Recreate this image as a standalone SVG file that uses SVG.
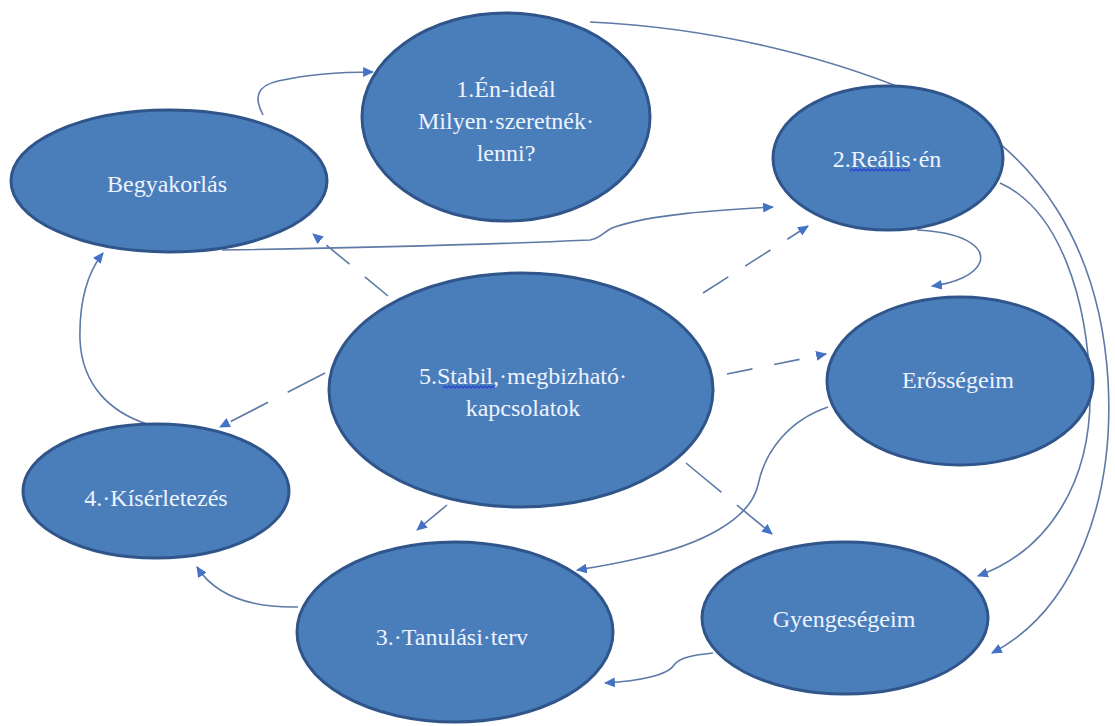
<svg xmlns="http://www.w3.org/2000/svg" width="1115" height="726" viewBox="0 0 1115 726">
  <style>
    .node { fill: #4a7ebb; stroke: #30558a; stroke-width: 3; }
    .label { font-family: "Liberation Serif", "Times New Roman", serif; font-size: 24px; fill: #eef3ff; text-anchor: middle; }
    .link { fill: none; stroke: #5e7aa6; stroke-width: 1.6; marker-end: url(#arrow); }
    .dash { stroke-dasharray: 30 20; }
    .squiggle { fill: none; stroke: #2a3fd6; stroke-width: 1.2; }
  </style>
  <defs>
    <marker id="arrow" viewBox="0 0 10 9" refX="9" refY="4.5" markerWidth="11" markerHeight="10" markerUnits="userSpaceOnUse" orient="auto">
      <path d="M0,0 L10,4.5 L0,9 z" fill="#4472c4"/>
    </marker>
  </defs>
  <rect width="1115" height="726" fill="#ffffff"/>

  <!-- connectors -->
  <g id="connectors">
    <path class="link" d="M263,115 C254,98 256,86 278,81 C305,75 340,72 373,72"/>
    <path class="link" d="M222,250 C350,248 500,244 590,240 C600,239 602,233 612,228 C650,214 720,210 773,207"/>
    <path class="link" d="M590,22 C720,28 840,60 930,100 C1040,150 1100,250 1108,380 C1115,500 1075,610 992,653"/>
    <path class="link" d="M1000,183 C1060,210 1088,300 1090,390 C1092,480 1050,550 978,576"/>
    <path class="link" d="M917,230 C960,232 985,245 980,262 C975,275 955,283 932,286"/>
    <path class="link dash" d="M388,296 L313,234"/>
    <path class="link dash" d="M703,293 L808,226"/>
    <path class="link dash" d="M727,374 L826,354" style="stroke-dasharray: 26 22"/>
    <path class="link dash" d="M325,373 L220,427" style="stroke-dasharray: 42 22"/>
    <path class="link dash" d="M447,505 L417,530"/>
    <path class="link dash" d="M686,463 L772,534" style="stroke-dasharray: 46 20"/>
    <path class="link" d="M828,407 C790,420 765,450 758,485 C750,520 700,545 640,558 C610,565 590,568 577,570"/>
    <path class="link" d="M713,653 C695,655 680,657 674,665 C668,675 640,681 605,683"/>
    <path class="link" d="M298,607 C250,608 215,595 197,567"/>
    <path class="link" d="M147,424 C110,412 82,385 80,340 C79,300 88,272 103,253"/>
  </g>

  <g id="node-en-ideal">
    <ellipse class="node" cx="506" cy="117" rx="144" ry="104"/>
    <text class="label" x="506" y="97">1.Én-ideál</text>
    <text class="label" x="506" y="129">Milyen·szeretnék·</text>
    <text class="label" x="506" y="161">lenni?</text>
  </g>

  <g id="node-realis-en">
    <ellipse class="node" cx="888" cy="158" rx="115" ry="72"/>
    <text class="label" x="887" y="167">2.Reális·én</text>
    <path class="squiggle" d="M850,171 l2,-2 l2,2 l2,-2 l2,2 l2,-2 l2,2 l2,-2 l2,2 l2,-2 l2,2 l2,-2 l2,2 l2,-2 l2,2 l2,-2 l2,2 l2,-2 l2,2 l2,-2 l2,2 l2,-2 l2,2 l2,-2 l2,2 l2,-2 l2,2 l2,-2 l2,2 l2,-2 l2,2"/>
  </g>

  <g id="node-begyakorlas">
    <ellipse class="node" cx="169" cy="181" rx="158" ry="71"/>
    <text class="label" x="167" y="192">Begyakorlás</text>
  </g>

  <g id="node-stabil">
    <ellipse class="node" cx="521" cy="390" rx="192" ry="117"/>
    <text class="label" x="523" y="384">5.Stabil,·megbizható·</text>
    <text class="label" x="523" y="416">kapcsolatok</text>
    <path class="squiggle" d="M443,388 l2,-2 l2,2 l2,-2 l2,2 l2,-2 l2,2 l2,-2 l2,2 l2,-2 l2,2 l2,-2 l2,2 l2,-2 l2,2 l2,-2 l2,2 l2,-2 l2,2 l2,-2 l2,2 l2,-2 l2,2 l2,-2 l2,2 l2,-2 l2,2"/>
  </g>

  <g id="node-erossegeim">
    <ellipse class="node" cx="960" cy="381" rx="133" ry="84"/>
    <text class="label" x="958" y="388">Erősségeim</text>
  </g>

  <g id="node-kiserletezes">
    <ellipse class="node" cx="156" cy="491" rx="133" ry="67"/>
    <text class="label" x="156" y="506">4.·Kísérletezés</text>
  </g>

  <g id="node-tanulasi-terv">
    <ellipse class="node" cx="455" cy="632" rx="158" ry="90"/>
    <text class="label" x="452" y="645">3.·Tanulási·terv</text>
  </g>

  <g id="node-gyengesegeim">
    <ellipse class="node" cx="845" cy="618" rx="143" ry="76"/>
    <text class="label" x="844" y="627">Gyengeségeim</text>
  </g>
</svg>
